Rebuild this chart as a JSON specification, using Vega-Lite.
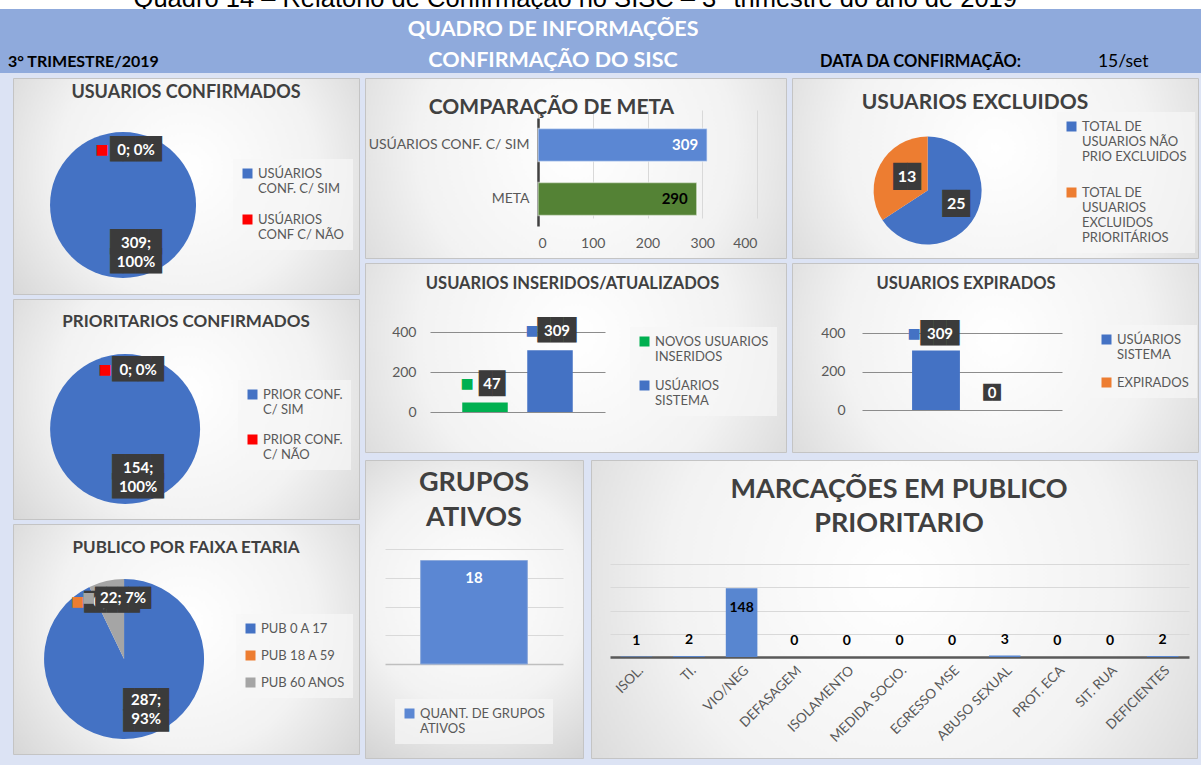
{
"$schema": "https://vega.github.io/schema/vega-lite/v6.json",
"background": "#dce3f4",
"padding": 0,
"spacing": 0,
"config": {
  "view": {"stroke": null},
  "font": "Lato",
  "text": {"font": "Lato"},
  "axis": {"labelFont": "Lato", "labelColor": "#595959", "labelFontSize": 13, "ticks": false, "domain": false, "grid": false},
  "legend": {"labelFont": "Lato", "labelFontSize": 13, "labelColor": "#595959", "symbolType": "square", "symbolSize": 100, "fillColor": "rgba(246,246,246,0.7)", "padding": 8, "rowPadding": 10, "labelLimit": 300, "symbolStrokeWidth": 0},
  "title": {"font": "Lato", "fontWeight": "bold", "color": "#404040", "frame": "group", "anchor": "middle"}
},
"resolve": {"scale": {"color": "independent", "x": "independent", "y": "independent", "theta": "independent"}, "legend": {"color": "independent"}},
"vconcat": [
  {"width": 1201, "height": 9, "view": {"fill": "#ffffff", "stroke": null},
   "data": {"values": [{"t": "Quadro 14 – Relatório de Confirmação no SISC – 3° trimestre do ano de 2019"}]},
   "mark": {"type": "text", "clip": true, "baseline": "alphabetic", "font": "Liberation Sans", "fontSize": 25.5, "color": "#000000"},
   "encoding": {"text": {"field": "t", "type": "nominal"},
     "x": {"datum": 0.479, "type": "quantitative", "scale": {"domain": [0, 1], "nice": false, "zero": false}, "axis": null},
     "y": {"datum": 0.75, "type": "quantitative", "scale": {"domain": [0, 1], "nice": false, "zero": false, "reverse": true}, "axis": null}}},
  {"width": 1201, "height": 64, "view": {"fill": "#8faadc", "stroke": null},
   "encoding": {
     "x": {"type": "quantitative", "scale": {"domain": [0, 1], "nice": false, "zero": false}, "axis": null},
     "y": {"type": "quantitative", "scale": {"domain": [0, 1], "nice": false, "zero": false, "reverse": true}, "axis": null}},
   "layer": [
     {"data": {"values": [{"t": "QUADRO DE INFORMAÇÕES"}]},
      "mark": {"type": "text", "fontSize": 21.5, "fontWeight": "bold", "color": "#ffffff", "baseline": "middle"},
      "encoding": {"text": {"field": "t", "type": "nominal"}, "x": {"datum": 0.4605, "type": "quantitative"}, "y": {"datum": 0.33, "type": "quantitative"}}},
     {"data": {"values": [{"t": "CONFIRMAÇÃO DO SISC"}]},
      "mark": {"type": "text", "fontSize": 21.5, "fontWeight": "bold", "color": "#ffffff", "baseline": "middle"},
      "encoding": {"text": {"field": "t", "type": "nominal"}, "x": {"datum": 0.4605, "type": "quantitative"}, "y": {"datum": 0.81, "type": "quantitative"}}},
     {"data": {"values": [{"t": "3° TRIMESTRE/2019"}]},
      "mark": {"type": "text", "align": "left", "fontSize": 16, "fontWeight": "bold", "color": "#000000", "baseline": "middle"},
      "encoding": {"text": {"field": "t", "type": "nominal"}, "x": {"datum": 0.0067, "type": "quantitative"}, "y": {"datum": 0.83, "type": "quantitative"}}},
     {"data": {"values": [{"t": "DATA DA CONFIRMAÇÃO:"}]},
      "mark": {"type": "text", "align": "left", "fontSize": 16.5, "fontWeight": "bold", "color": "#000000", "baseline": "middle"},
      "encoding": {"text": {"field": "t", "type": "nominal"}, "x": {"datum": 0.6828, "type": "quantitative"}, "y": {"datum": 0.83, "type": "quantitative"}}},
     {"data": {"values": [{"t": "15/set"}]},
      "mark": {"type": "text", "align": "left", "fontSize": 17.5, "color": "#000000", "baseline": "middle"},
      "encoding": {"text": {"field": "t", "type": "nominal"}, "x": {"datum": 0.9142, "type": "quantitative"}, "y": {"datum": 0.83, "type": "quantitative"}}}
   ]},
  {"width": 1, "height": 4, "data": {"values": []}, "mark": "point"},
  {"hconcat": [
    {"width": 12, "height": 1, "data": {"values": []}, "mark": "point"},
    {"vconcat": [
      {"width": 346, "height": 216,
       "view": {"fill": {"gradient": "radial", "x1": 0.5, "y1": 0.45, "r1": 0, "x2": 0.5, "y2": 0.45, "r2": 0.75, "stops": [{"offset": 0, "color": "#ffffff"}, {"offset": 0.5, "color": "#f2f2f2"}, {"offset": 1, "color": "#c9c9c9"}]}, "stroke": "#c4c4c4"},
       "title": {"text": "USUARIOS CONFIRMADOS", "fontSize": 18, "offset": -24},
       "data": {"values": [
         {"cat": "USÚARIOS CONF. C/ SIM", "v": 309, "lbl": ["309;", "100%"]},
         {"cat": "USÚARIOS CONF C/ NÃO", "v": 0, "lbl": "0; 0%"}]},
       "encoding": {
         "theta": {"field": "v", "type": "quantitative", "stack": true},
         "order": {"field": "cat", "type": "ordinal", "sort": "descending"},
         "x": {"datum": 0.318, "type": "quantitative", "scale": {"domain": [0, 1], "nice": false, "zero": false}, "axis": null},
         "y": {"datum": 0.588, "type": "quantitative", "scale": {"domain": [0, 1], "nice": false, "zero": false, "reverse": true}, "axis": null}},
       "layer": [
         {"mark": {"type": "arc", "outerRadius": 73},
          "encoding": {"color": {"field": "cat", "type": "nominal", "scale": {"domain": ["USÚARIOS CONF. C/ SIM", "USÚARIOS CONF C/ NÃO"], "range": ["#4472c4", "#ff0000"]},
            "legend": {"title": null, "orient": "none", "legendX": 220, "legendY": 81, "rowPadding": 17, "symbolType": "square", "labelExpr": "split(replace(datum.label, 'USÚARIOS ', 'USÚARIOS|'), '|')"}}}},
         {"mark": {"type": "text", "radius": 46.5, "dx": 13, "dy": -9, "font": "DejaVu Sans Mono", "fontSize": 21.5, "lineHeight": 19, "color": "#3b3b3b", "baseline": "middle"},
          "encoding": {"text": {"condition": {"test": "datum.v > 100", "value": ["████", "████"]}, "value": "████"}}},
         {"mark": {"type": "text", "radius": 46.5, "dx": 13, "dy": -9, "color": "#ffffff", "fontWeight": "bold", "fontSize": 15, "lineHeight": 19, "baseline": "middle"},
          "encoding": {"text": {"field": "lbl", "type": "nominal"}}},
         {"mark": {"type": "text", "radius": 46.5, "dx": -21, "dy": -9, "font": "DejaVu Sans", "fontSize": 14, "baseline": "middle"},
          "encoding": {"text": {"value": "■"}, "color": {"field": "cat", "type": "nominal"}}}
       ]},
      {"width": 346, "height": 220,
       "view": {"fill": {"gradient": "radial", "x1": 0.5, "y1": 0.45, "r1": 0, "x2": 0.5, "y2": 0.45, "r2": 0.75, "stops": [{"offset": 0, "color": "#ffffff"}, {"offset": 0.5, "color": "#f2f2f2"}, {"offset": 1, "color": "#c9c9c9"}]}, "stroke": "#c4c4c4"},
       "title": {"text": "PRIORITARIOS CONFIRMADOS", "fontSize": 17, "offset": -32},
       "data": {"values": [
         {"cat": "PRIOR CONF. C/ SIM", "v": 154, "lbl": ["154;", "100%"]},
         {"cat": "PRIOR CONF. C/ NÃO", "v": 0, "lbl": "0; 0%"}]},
       "encoding": {
         "theta": {"field": "v", "type": "quantitative", "stack": true},
         "order": {"field": "cat", "type": "ordinal", "sort": "descending"},
         "x": {"datum": 0.324, "type": "quantitative", "scale": {"domain": [0, 1], "nice": false, "zero": false}, "axis": null},
         "y": {"datum": 0.591, "type": "quantitative", "scale": {"domain": [0, 1], "nice": false, "zero": false, "reverse": true}, "axis": null}},
       "layer": [
         {"mark": {"type": "arc", "outerRadius": 75},
          "encoding": {"color": {"field": "cat", "type": "nominal", "scale": {"domain": ["PRIOR CONF. C/ SIM", "PRIOR CONF. C/ NÃO"], "range": ["#4472c4", "#ff0000"]},
            "legend": {"title": null, "orient": "none", "legendX": 225, "legendY": 81, "rowPadding": 16, "symbolType": "square", "labelExpr": "split(replace(datum.label, 'CONF. ', 'CONF.|'), '|')"}}}},
         {"mark": {"type": "text", "radius": 49, "dx": 13, "dy": -10, "font": "DejaVu Sans Mono", "fontSize": 21.5, "lineHeight": 19, "color": "#3b3b3b", "baseline": "middle"},
          "encoding": {"text": {"condition": {"test": "datum.v > 100", "value": ["████", "████"]}, "value": "████"}}},
         {"mark": {"type": "text", "radius": 49, "dx": 13, "dy": -10, "color": "#ffffff", "fontWeight": "bold", "fontSize": 15, "lineHeight": 19, "baseline": "middle"},
          "encoding": {"text": {"field": "lbl", "type": "nominal"}}},
         {"mark": {"type": "text", "radius": 49, "dx": -20, "dy": -10, "font": "DejaVu Sans", "fontSize": 14, "baseline": "middle"},
          "encoding": {"text": {"value": "■"}, "color": {"field": "cat", "type": "nominal"}}}
       ]},
      {"width": 346, "height": 230,
       "view": {"fill": {"gradient": "radial", "x1": 0.5, "y1": 0.45, "r1": 0, "x2": 0.5, "y2": 0.45, "r2": 0.75, "stops": [{"offset": 0, "color": "#ffffff"}, {"offset": 0.5, "color": "#f2f2f2"}, {"offset": 1, "color": "#c9c9c9"}]}, "stroke": "#c4c4c4"},
       "title": {"text": "PUBLICO POR FAIXA ETARIA", "fontSize": 17, "offset": -33},
       "data": {"values": [
         {"cat": "PUB 0 A 17", "v": 287, "lbl": ["287;", "93%"]},
         {"cat": "PUB 18 A 59", "v": 0, "lbl": "0; 0%"},
         {"cat": "PUB 60 ANOS", "v": 22, "lbl": "22; 7%"}]},
       "encoding": {
         "theta": {"field": "v", "type": "quantitative", "stack": true},
         "order": {"field": "cat", "type": "ordinal", "sort": "ascending"},
         "x": {"datum": 0.321, "type": "quantitative", "scale": {"domain": [0, 1], "nice": false, "zero": false}, "axis": null},
         "y": {"datum": 0.587, "type": "quantitative", "scale": {"domain": [0, 1], "nice": false, "zero": false, "reverse": true}, "axis": null}},
       "layer": [
         {"mark": {"type": "arc", "outerRadius": 80},
          "encoding": {"color": {"field": "cat", "type": "nominal", "scale": {"domain": ["PUB 0 A 17", "PUB 18 A 59", "PUB 60 ANOS"], "range": ["#4472c4", "#ed7d31", "#a5a5a5"]},
            "legend": {"title": null, "orient": "none", "legendX": 223, "legendY": 90, "symbolType": "square", "rowPadding": 13}}}},
         {"mark": {"type": "text", "radius": 52, "dx": 10.5, "dy": -10, "font": "DejaVu Sans Mono", "lineHeight": 21, "color": "#3b3b3b", "baseline": "middle"},
          "encoding": {"text": {"condition": {"test": "datum.v > 100", "value": ["████", "████"]}, "value": "█████"}, "size": {"condition": {"test": "datum.v > 100", "value": 19}, "value": 18.5}}},
         {"mark": {"type": "text", "radius": 52, "dx": 10.5, "dy": -10, "color": "#ffffff", "fontWeight": "bold", "fontSize": 15, "lineHeight": 19, "baseline": "middle"},
          "encoding": {"text": {"field": "lbl", "type": "nominal"}}},
         {"mark": {"type": "text", "radius": 52, "dx": 10.5, "dy": -10, "font": "DejaVu Sans Mono", "fontSize": 18.5, "color": "#3b3b3b", "baseline": "middle"},
          "encoding": {"text": {"value": "█████"}, "opacity": {"condition": {"test": "datum.cat == 'PUB 60 ANOS'", "value": 1}, "value": 0}}},
         {"mark": {"type": "text", "radius": 52, "dx": 10.5, "dy": -10, "color": "#ffffff", "fontWeight": "bold", "fontSize": 15, "baseline": "middle"},
          "encoding": {"text": {"field": "lbl", "type": "nominal"}, "opacity": {"condition": {"test": "datum.cat == 'PUB 60 ANOS'", "value": 1}, "value": 0}}},
         {"mark": {"type": "text", "radius": 52, "dx": -24, "dy": -10, "font": "DejaVu Sans", "fontSize": 14, "baseline": "middle"},
          "encoding": {"text": {"value": "■"}, "color": {"field": "cat", "type": "nominal"}}}
       ]}
    ], "spacing": 3, "resolve": {"scale": {"color": "independent", "x": "independent", "y": "independent", "theta": "independent"}, "legend": {"color": "independent"}}},
    {"width": 4, "height": 1, "data": {"values": []}, "mark": "point"},
    {"vconcat": [
      {"hconcat": [
        {"vconcat": [
          {"width": 421, "height": 180,
           "view": {"fill": {"gradient": "radial", "x1": 0.5, "y1": 0.45, "r1": 0, "x2": 0.5, "y2": 0.45, "r2": 0.75, "stops": [{"offset": 0, "color": "#ffffff"}, {"offset": 0.5, "color": "#f2f2f2"}, {"offset": 1, "color": "#c9c9c9"}]}, "stroke": "#c4c4c4"},
           "title": {"text": "COMPARAÇÃO DE META", "fontSize": 21, "offset": -40, "dx": -24},
           "data": {"values": [{"cat": "USÚARIOS CONF. C/ SIM", "v": 309}, {"cat": "META", "v": 290}]},
           "encoding": {
             "y": {"field": "cat", "type": "nominal", "sort": null, "scale": {"domain": ["USÚARIOS CONF. C/ SIM", "META"], "range": [40, 148], "paddingInner": 0.39, "paddingOuter": 0.195},
                   "axis": {"title": null, "offset": -173, "domain": true, "domainColor": "#404040", "domainWidth": 2.5, "labelPadding": 9, "labelFontSize": 14}},
             "x": {"field": "v", "type": "quantitative", "scale": {"domain": [0, 400], "range": [173, 392], "nice": false},
                   "axis": {"title": null, "offset": -32, "values": [0, 100, 200, 300, 400], "grid": true, "gridColor": "#d9d9d9", "labelPadding": 10, "labelFontSize": 14}}},
           "layer": [
             {"mark": {"type": "bar", "stroke": "#ffffff", "strokeOpacity": 0.5, "strokeWidth": 1.5},
              "encoding": {"color": {"field": "cat", "type": "nominal", "scale": {"domain": ["USÚARIOS CONF. C/ SIM", "META"], "range": ["#5b87d3", "#548235"]}, "legend": null}}},
             {"mark": {"type": "text", "align": "right", "dx": -9, "fontWeight": "bold", "fontSize": 15, "baseline": "middle"},
              "encoding": {"text": {"field": "v", "type": "quantitative"}, "color": {"condition": {"test": "datum.cat == 'META'", "value": "#000000"}, "value": "#ffffff"}}}
           ]},
          {"width": 421, "height": 189,
           "view": {"fill": {"gradient": "radial", "x1": 0.5, "y1": 0.45, "r1": 0, "x2": 0.5, "y2": 0.45, "r2": 0.75, "stops": [{"offset": 0, "color": "#ffffff"}, {"offset": 0.5, "color": "#f2f2f2"}, {"offset": 1, "color": "#c9c9c9"}]}, "stroke": "#c4c4c4"},
           "title": {"text": "USUARIOS INSERIDOS/ATUALIZADOS", "fontSize": 16.5, "offset": -29, "dx": -3},
           "data": {"values": [{"cat": "NOVOS USUARIOS INSERIDOS", "v": 47}, {"cat": "USÚARIOS SISTEMA", "v": 309}]},
           "encoding": {
             "x": {"field": "cat", "type": "nominal", "sort": null, "scale": {"domain": ["NOVOS USUARIOS INSERIDOS", "USÚARIOS SISTEMA"], "range": [65, 240], "paddingInner": 0.3, "paddingOuter": 0.496}, "axis": null},
             "y": {"field": "v", "type": "quantitative", "scale": {"domain": [0, 400], "range": [149, 69], "nice": false},
                   "axis": {"title": null, "offset": -55, "values": [0, 200, 400], "grid": true, "gridColor": "#8c8c8c", "labelPadding": 4, "labelFontSize": 14}}},
           "layer": [
             {"mark": {"type": "bar"},
              "encoding": {"color": {"field": "cat", "type": "nominal", "scale": {"domain": ["NOVOS USUARIOS INSERIDOS", "USÚARIOS SISTEMA"], "range": ["#00b050", "#4472c4"]},
                "legend": {"title": null, "orient": "none", "legendX": 265, "legendY": 64, "rowPadding": 15, "symbolType": "square", "labelExpr": "datum.label == 'NOVOS USUARIOS INSERIDOS' ? ['NOVOS USUARIOS', 'INSERIDOS'] : ['USÚARIOS', 'SISTEMA']"}}}},
             {"mark": {"type": "text", "dx": 7, "dy": -19, "font": "DejaVu Sans Mono", "color": "#3b3b3b", "baseline": "middle"},
              "encoding": {"text": {"condition": {"test": "datum.v > 100", "value": "███"}, "value": "██"}, "size": {"condition": {"test": "datum.v > 100", "value": 21.5}, "value": 22}}},
             {"mark": {"type": "text", "dx": 7, "dy": -19, "color": "#ffffff", "fontWeight": "bold", "fontSize": 15, "baseline": "middle"},
              "encoding": {"text": {"field": "v", "type": "quantitative"}}},
             {"mark": {"type": "text", "dx": -18, "dy": -19, "font": "DejaVu Sans", "fontSize": 14, "baseline": "middle"},
              "encoding": {"text": {"value": "■"}, "color": {"field": "cat", "type": "nominal"}}}
           ]}
        ], "spacing": 3, "resolve": {"scale": {"color": "independent", "x": "independent", "y": "independent", "theta": "independent"}, "legend": {"color": "independent"}}},
        {"vconcat": [
          {"width": 406, "height": 180,
           "view": {"fill": {"gradient": "radial", "x1": 0.5, "y1": 0.45, "r1": 0, "x2": 0.5, "y2": 0.45, "r2": 0.75, "stops": [{"offset": 0, "color": "#ffffff"}, {"offset": 0.5, "color": "#f2f2f2"}, {"offset": 1, "color": "#c9c9c9"}]}, "stroke": "#c4c4c4"},
           "title": {"text": "USUARIOS EXCLUIDOS", "fontSize": 21, "offset": -35, "dx": -20},
           "data": {"values": [
             {"cat": "TOTAL DE USUARIOS NÃO PRIO EXCLUIDOS", "v": 25, "lbl": "25"},
             {"cat": "TOTAL DE USUARIOS EXCLUIDOS PRIORITÁRIOS", "v": 13, "lbl": "13"}]},
           "encoding": {
             "theta": {"field": "v", "type": "quantitative", "stack": true},
             "order": {"field": "cat", "type": "ordinal", "sort": "descending"},
             "x": {"datum": 0.334, "type": "quantitative", "scale": {"domain": [0, 1], "nice": false, "zero": false}, "axis": null},
             "y": {"datum": 0.625, "type": "quantitative", "scale": {"domain": [0, 1], "nice": false, "zero": false, "reverse": true}, "axis": null}},
           "layer": [
             {"mark": {"type": "arc", "outerRadius": 54},
              "encoding": {"color": {"field": "cat", "type": "nominal", "scale": {"domain": ["TOTAL DE USUARIOS NÃO PRIO EXCLUIDOS", "TOTAL DE USUARIOS EXCLUIDOS PRIORITÁRIOS"], "range": ["#4472c4", "#ed7d31"]},
                "legend": {"title": null, "orient": "none", "legendX": 265, "legendY": 34, "rowPadding": 22, "symbolType": "square", "labelExpr": "datum.label == 'TOTAL DE USUARIOS NÃO PRIO EXCLUIDOS' ? ['TOTAL DE', 'USUARIOS  NÃO', 'PRIO EXCLUIDOS'] : ['TOTAL DE', 'USUARIOS', 'EXCLUIDOS', 'PRIORITÁRIOS']"}}}},
             {"mark": {"type": "text", "radius": 28, "dx": 4, "font": "DejaVu Sans Mono", "fontSize": 23, "color": "#3b3b3b", "baseline": "middle"},
              "encoding": {"text": {"value": "██"}}},
             {"mark": {"type": "text", "radius": 28, "dx": 4, "color": "#ffffff", "fontWeight": "bold", "fontSize": 16, "baseline": "middle"},
              "encoding": {"text": {"field": "lbl", "type": "nominal"}}}
           ]},
          {"width": 406, "height": 189,
           "view": {"fill": {"gradient": "radial", "x1": 0.5, "y1": 0.45, "r1": 0, "x2": 0.5, "y2": 0.45, "r2": 0.75, "stops": [{"offset": 0, "color": "#ffffff"}, {"offset": 0.5, "color": "#f2f2f2"}, {"offset": 1, "color": "#c9c9c9"}]}, "stroke": "#c4c4c4"},
           "title": {"text": "USUARIOS EXPIRADOS", "fontSize": 16.5, "offset": -29, "dx": -29},
           "data": {"values": [{"cat": "USÚARIOS SISTEMA", "v": 309}, {"cat": "EXPIRADOS", "v": 0}]},
           "encoding": {
             "x": {"field": "cat", "type": "nominal", "sort": null, "scale": {"domain": ["USÚARIOS SISTEMA", "EXPIRADOS"], "range": [70, 270], "paddingInner": 0.08, "paddingOuter": 0.963}, "axis": null},
             "y": {"field": "v", "type": "quantitative", "scale": {"domain": [0, 400], "range": [147, 70], "nice": false},
                   "axis": {"title": null, "offset": -57, "values": [0, 200, 400], "grid": true, "gridColor": "#8c8c8c", "labelPadding": 4, "labelFontSize": 14}}},
           "layer": [
             {"mark": {"type": "bar"},
              "encoding": {"color": {"field": "cat", "type": "nominal", "scale": {"domain": ["USÚARIOS SISTEMA", "EXPIRADOS"], "range": ["#4472c4", "#ed7d31"]},
                "legend": {"title": null, "orient": "none", "legendX": 300, "legendY": 62, "rowPadding": 14, "symbolType": "square", "labelExpr": "datum.label == 'USÚARIOS SISTEMA' ? ['USÚARIOS', 'SISTEMA'] : datum.label"}}}},
             {"mark": {"type": "text", "dx": 4, "dy": -17, "font": "DejaVu Sans Mono", "color": "#3b3b3b", "baseline": "middle"},
              "encoding": {"text": {"condition": {"test": "datum.v > 100", "value": "███"}, "value": "██"}, "size": {"condition": {"test": "datum.v > 100", "value": 21.5}, "value": 14.5}}},
             {"mark": {"type": "text", "dx": 4, "dy": -17, "color": "#ffffff", "fontWeight": "bold", "fontSize": 15, "baseline": "middle"},
              "encoding": {"text": {"field": "v", "type": "quantitative"}}},
             {"mark": {"type": "text", "dx": -22, "dy": -17, "font": "DejaVu Sans", "fontSize": 14, "baseline": "middle"},
              "encoding": {"text": {"value": "■"}, "color": {"field": "cat", "type": "nominal"}, "opacity": {"condition": {"test": "datum.v > 100", "value": 1}, "value": 0}}}
           ]}
        ], "spacing": 3, "resolve": {"scale": {"color": "independent", "x": "independent", "y": "independent", "theta": "independent"}, "legend": {"color": "independent"}}}
      ], "spacing": 4, "resolve": {"scale": {"color": "independent", "x": "independent", "y": "independent", "theta": "independent"}, "legend": {"color": "independent"}}},
      {"hconcat": [
        {"width": 218, "height": 298,
         "view": {"fill": {"gradient": "radial", "x1": 0.5, "y1": 0.45, "r1": 0, "x2": 0.5, "y2": 0.45, "r2": 0.75, "stops": [{"offset": 0, "color": "#ffffff"}, {"offset": 0.5, "color": "#f2f2f2"}, {"offset": 1, "color": "#c9c9c9"}]}, "stroke": "#c4c4c4"},
         "title": {"text": ["GRUPOS", "ATIVOS"], "fontSize": 27, "lineHeight": 35, "offset": -72},
         "data": {"values": [{"cat": "QUANT. DE GRUPOS ATIVOS", "v": 18}]},
         "encoding": {
           "x": {"field": "cat", "type": "nominal", "scale": {"range": [20, 198], "paddingInner": 0.4, "paddingOuter": 0.2},
                 "axis": {"title": null, "labels": false, "offset": -94, "domain": true, "domainColor": "#bfbfbf", "domainWidth": 1.5}},
           "y": {"field": "v", "type": "quantitative", "scale": {"domain": [0, 20], "range": [204, 89], "nice": false},
                 "axis": {"title": null, "labels": false, "values": [5, 10, 15, 20], "grid": true, "gridColor": "#d9d9d9"}}},
         "layer": [
           {"mark": {"type": "bar", "stroke": "#8eaadb", "strokeWidth": 1},
            "encoding": {"color": {"field": "cat", "type": "nominal", "scale": {"range": ["#5b87d3"]},
              "legend": {"title": null, "orient": "none", "legendX": 30, "legendY": 239, "symbolType": "square", "labelExpr": "split(replace(datum.label, 'GRUPOS ', 'GRUPOS|'), '|')"}}}},
           {"mark": {"type": "text", "dy": 17, "color": "#ffffff", "fontWeight": "bold", "fontSize": 15, "baseline": "middle"},
            "encoding": {"text": {"field": "v", "type": "quantitative"}}}
         ]},
        {"width": 606, "height": 298,
         "view": {"fill": {"gradient": "radial", "x1": 0.5, "y1": 0.45, "r1": 0, "x2": 0.5, "y2": 0.45, "r2": 0.75, "stops": [{"offset": 0, "color": "#ffffff"}, {"offset": 0.5, "color": "#f2f2f2"}, {"offset": 1, "color": "#c9c9c9"}]}, "stroke": "#c4c4c4"},
         "title": {"text": ["MARCAÇÕES EM PUBLICO", "PRIORITARIO"], "fontSize": 27, "lineHeight": 34, "offset": -78, "dx": 5},
         "data": {"values": [
           {"cat": "ISOL.", "v": 1}, {"cat": "TI.", "v": 2}, {"cat": "VIO/NEG", "v": 148}, {"cat": "DEFASAGEM", "v": 0},
           {"cat": "ISOLAMENTO", "v": 0}, {"cat": "MEDIDA SOCIO.", "v": 0}, {"cat": "EGRESSO MSE", "v": 0}, {"cat": "ABUSO SEXUAL", "v": 3},
           {"cat": "PROT. ECA", "v": 0}, {"cat": "SIT. RUA", "v": 0}, {"cat": "DEFICIENTES", "v": 2}]},
         "encoding": {
           "x": {"field": "cat", "type": "nominal", "sort": null, "scale": {"range": [19, 598], "paddingInner": 0.4, "paddingOuter": 0.2},
                 "axis": {"title": null, "labelAngle": -45, "offset": -101, "domain": true, "domainColor": "#595959", "domainWidth": 2.5, "labelPadding": 6, "labelFontSize": 13.5}},
           "y": {"field": "v", "type": "quantitative", "scale": {"domain": [0, 200], "range": [197, 104], "nice": false},
                 "axis": {"title": null, "labels": false, "values": [50, 100, 150, 200], "grid": true, "gridColor": "#d9d9d9"}}},
         "layer": [
           {"mark": {"type": "bar", "color": "#5886d0"}},
           {"transform": [{"filter": "datum.v < 50"}],
            "mark": {"type": "text", "dy": -16, "color": "#000000", "fontWeight": "bold", "fontSize": 14, "baseline": "middle"},
            "encoding": {"text": {"field": "v", "type": "quantitative"}}},
           {"transform": [{"filter": "datum.v >= 50"}],
            "mark": {"type": "text", "dy": 20, "color": "#000000", "fontWeight": "bold", "fontSize": 14, "baseline": "middle"},
            "encoding": {"text": {"field": "v", "type": "quantitative"}}}
         ]}
      ], "spacing": 6, "resolve": {"scale": {"color": "independent", "x": "independent", "y": "independent", "theta": "independent"}, "legend": {"color": "independent"}}}
    ], "spacing": 6, "resolve": {"scale": {"color": "independent", "x": "independent", "y": "independent", "theta": "independent"}, "legend": {"color": "independent"}}}
  ], "spacing": 0, "resolve": {"scale": {"color": "independent", "x": "independent", "y": "independent", "theta": "independent"}, "legend": {"color": "independent"}}},
  {"width": 1, "height": 8, "data": {"values": []}, "mark": "point"}
]
}
